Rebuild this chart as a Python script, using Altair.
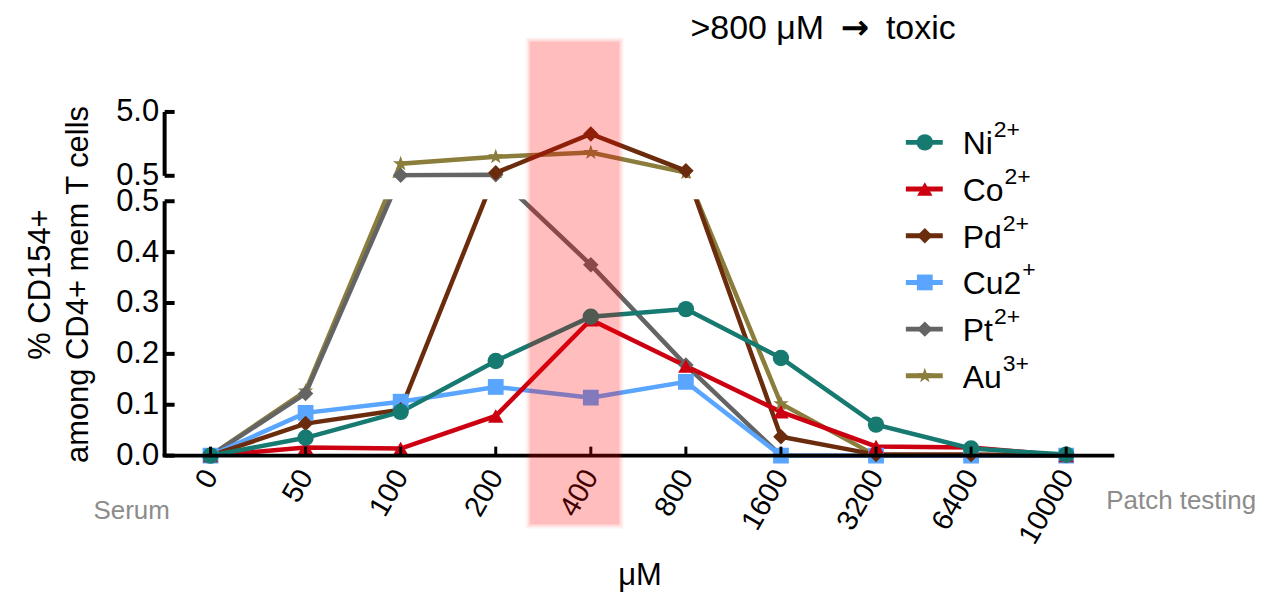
import altair as alt
import pandas as pd

# ---------------- data ----------------
conc_labels = ["0", "50", "100", "200", "400", "800", "1600", "3200", "6400", "10000"]

series_names = ["Ni", "Co", "Pd", "Cu2", "Pt", "Au"]
series_sups = ["2+", "2+", "2+", "+", "2+", "3+"]
series_colors = ["#167a71", "#cc0011", "#6b2c0d", "#59a5ff", "#646464", "#8b7d3c"]

ni = [0.0, 0.035, 0.086, 0.186, 0.273, 0.288, 0.192, 0.061, 0.014, 0.002]
co = [0.0, 0.016, 0.014, 0.078, 0.267, 0.176, 0.086, 0.018, 0.016, 0.0]
pd_ = [0.0, 0.063, 0.090, 0.71, 3.45, 0.85, 0.037, 0.002, 0.002, 0.0]
cu = [0.0, 0.084, 0.106, 0.135, 0.114, 0.145, 0.0, 0.0, 0.0, 0.0]
pt = [0.0, 0.122, 0.54, 0.58, 0.375, 0.178, 0.0, 0.0, 0.0, 0.0]
au = [0.0, 0.127, 1.35, 1.84, 2.14, 0.72, 0.102, 0.0, 0.0, 0.0]

series_values = [ni, co, pd_, cu, pt, au]
draw_order = [5, 4, 3, 2, 1, 0]  # Au drawn first, Ni last (on top)

# ---------------- layout / scale setup ----------------
W, H = 952, 416
PX_X = 95.3          # pixels per concentration step
PX_Y = 510.0         # pixels per unit on the lower segment
X_LO = -46 / PX_X
X_HI = X_LO + W / PX_X
Y_TOP = H / PX_Y
BREAK_LO = 0.5       # top of lower segment (display)
BREAK_HI = 0.55      # bottom of upper segment (display)
K_UP = 0.02789       # display units per data unit on upper segment
UP_TOP = BREAK_HI + 4.5 * K_UP


def px_x(px):
    return (px - 211) / PX_X


def px_y(py):
    return (456 - py) / PX_Y


XS = alt.Scale(domain=[X_LO, X_HI], nice=False, zero=False)
YS = alt.Scale(domain=[0, Y_TOP], nice=False, zero=False)

FONT = "Liberation Sans"

label_arr = "[" + ",".join("'%s'" % s for s in conc_labels) + "]"
XAX = alt.Axis(
    values=list(range(len(conc_labels))),
    labelExpr=label_arr + "[datum.value]",
    labelAngle=300, labelAlign="right", labelBaseline="middle",
    labelFontSize=29, labelFont=FONT, labelColor="black", labelPadding=16,
    labelOverlap=False, ticks=False, domain=False, grid=False,
    title="μM", titleFontSize=31, titleFont=FONT, titleFontWeight="normal",
    titleColor="black", titlePadding=12,
)
YAX = alt.Axis(
    values=[0, 0.1, 0.2, 0.3, 0.4, 0.5, BREAK_HI, UP_TOP],
    labelExpr="datum.value <= 0.5001 ? format(datum.value, '.1f') : "
              "format(0.5 + (datum.value - %g) / %g, '.1f')" % (BREAK_HI, K_UP),
    labelFontSize=31, labelFont=FONT, labelColor="black", labelPadding=6,
    labelOverlap=False, ticks=False, domain=False, grid=False,
    title=["% CD154+", "among CD4+ mem T cells"], titleFontSize=31,
    titleFont=FONT, titleFontWeight="normal", titleColor="black",
    titlePadding=21, titleLineHeight=38, titleY=244,
)


def X(field):
    return alt.X(field, type="quantitative", scale=XS, axis=XAX)


def Y(field):
    return alt.Y(field, type="quantitative", scale=YS, axis=YAX)


STAR = ("M0,-1L0.235,-0.324L0.951,-0.309L0.38,0.124L0.588,0.809L0,0.4"
        "L-0.588,0.809L-0.38,0.124L-0.951,-0.309L-0.235,-0.324Z")
series_shapes = ["circle", "triangle-up", "diamond", "square", "diamond", STAR]
series_sizes = [270, 240, 240, 250, 240, 260]

rows = []
for name, vals in zip(series_names, series_values):
    for j, v in enumerate(vals):
        rows.append({"series": name, "idx": j, "v": v})
df = pd.DataFrame(rows)

disp_expr = "datum.v <= 0.5 ? datum.v : %g + (datum.v - 0.5) * %g" % (BREAK_HI, K_UP)
base = alt.Chart(df).transform_calculate(disp=disp_expr)

layers = []
# lines
for i in draw_order:
    layers.append(
        base.transform_filter(alt.datum.series == series_names[i])
        .mark_line(color=series_colors[i], strokeWidth=4.5)
        .encode(x=X("idx"), y=Y("disp"))
    )

# white mask for the axis break
mask = pd.DataFrame({"y0": [BREAK_LO + 0.004], "y1": [BREAK_HI - 0.004]})
layers.append(alt.Chart(mask).mark_rect(color="white").encode(
    x=alt.value(0), x2=alt.value(W), y=Y("y0"), y2="y1"))

# points
for i in draw_order:
    layers.append(
        base.transform_filter(alt.datum.series == series_names[i])
        .mark_point(color=series_colors[i], filled=True, opacity=1,
                    size=series_sizes[i], shape=series_shapes[i])
        .encode(x=X("idx"), y=Y("disp"))
    )

# axis lines & ticks
y_axis_segments = pd.DataFrame({"y0": [0, BREAK_HI], "y1": [BREAK_LO, UP_TOP]})
layers.append(alt.Chart(y_axis_segments).mark_rule(color="black", strokeWidth=4).encode(
    x=alt.value(0), y=Y("y0"), y2="y1"))
layers.append(alt.Chart(pd.DataFrame({"y": [0]})).mark_rule(color="black", strokeWidth=4).encode(
    x=alt.value(-2), x2=alt.value(W), y=Y("y")))
y_ticks = pd.DataFrame({"y": [0, 0.1, 0.2, 0.3, 0.4, 0.5, BREAK_HI, UP_TOP]})
layers.append(alt.Chart(y_ticks).mark_rule(color="black", strokeWidth=4).encode(
    x=alt.value(0), x2=alt.value(10), y=Y("y")))
x_ticks = pd.DataFrame({"idx": list(range(len(conc_labels))), "y0": 0.0, "y1": 9 / PX_Y})
layers.append(alt.Chart(x_ticks).mark_rule(color="black", strokeWidth=3).encode(
    x=X("idx"), y=Y("y0"), y2="y1"))

# highlighted band around 400 µM (soft edges + core)
band = pd.DataFrame({
    "x0": [px_x(527), px_x(529), px_x(531)],
    "x1": [px_x(625), px_x(623), px_x(621)],
    "y0": [px_y(529), px_y(527), px_y(525)],
    "y1": [px_y(37), px_y(39), px_y(41)],
    "op": [0.06, 0.08, 0.14],
})
layers.append(alt.Chart(band).mark_rect(color="#ff0000").encode(
    x=X("x0"), x2="x1", y=Y("y0"), y2="y1",
    opacity=alt.Opacity("op:Q", scale=None, legend=None)))

# annotations
notes = pd.DataFrame({
    "x": [px_x(132), px_x(1184)],
    "y": [px_y(512), px_y(502)],
    "t": ["Serum", "Patch testing"],
})
layers.append(alt.Chart(notes).mark_text(font=FONT, fontSize=26, color="#8c8c8c").encode(
    x=X("x"), y=Y("y"), text="t:N"))

TITLE_Y = px_y(28)
t1 = pd.DataFrame({"x": [px_x(826)], "y": [TITLE_Y], "t": [">800 μM"]})
layers.append(alt.Chart(t1).mark_text(font=FONT, fontSize=34, color="black", align="right").encode(
    x=X("x"), y=Y("y"), text="t:N"))
t2 = pd.DataFrame({"x": [px_x(857)], "y": [TITLE_Y], "t": ["→"]})
layers.append(alt.Chart(t2).mark_text(font="DejaVu Sans", fontWeight="bold", fontSize=34,
                                      color="black").encode(
    x=X("x"), y=Y("y"), text="t:N"))
t3 = pd.DataFrame({"x": [px_x(888)], "y": [TITLE_Y], "t": ["toxic"]})
layers.append(alt.Chart(t3).mark_text(font=FONT, fontSize=34, color="black", align="left").encode(
    x=X("x"), y=Y("y"), text="t:N"))

# manual legend
char_w = {"N": 0.722, "i": 0.222, "C": 0.722, "o": 0.556, "P": 0.667, "d": 0.556,
          "u": 0.556, "2": 0.556, "t": 0.278, "A": 0.667}
LEG_FS = 32
for k in range(len(series_names)):
    ly = px_y(142 + 46.8 * k)
    wpx = sum(char_w.get(c, 0.6) for c in series_names[k]) * LEG_FS
    ldf = pd.DataFrame({
        "x0": [px_x(908)], "x1": [px_x(945)], "xm": [px_x(927)], "xt": [px_x(965)],
        "xs": [px_x(965 + wpx + 1)], "y": [ly],
        "name": [series_names[k]], "sup": [series_sups[k]],
    })
    lc = alt.Chart(ldf)
    layers.append(lc.mark_rule(color=series_colors[k], strokeWidth=5).encode(
        x=X("x0"), x2="x1", y=Y("y")))
    layers.append(lc.mark_point(color=series_colors[k], filled=True, opacity=1,
                                size=series_sizes[k], shape=series_shapes[k]).encode(
        x=X("xm"), y=Y("y")))
    layers.append(lc.mark_text(font=FONT, fontSize=LEG_FS, align="left", baseline="middle",
                               color="black", dy=2).encode(
        x=X("xt"), y=Y("y"), text="name:N"))
    layers.append(lc.mark_text(font=FONT, fontSize=23, align="left", baseline="middle",
                               color="black", dy=-12).encode(
        x=X("xs"), y=Y("y"), text="sup:N"))

chart = alt.layer(*layers).properties(
    width=W, height=H,
    background="white",
    autosize=alt.AutoSizeParams(type="none"),
    padding={"left": 157, "top": 32, "right": 150, "bottom": 136},
).configure_view(stroke=None)

chart.save("out.html", embed_options={"renderer": "svg", "actions": False})
